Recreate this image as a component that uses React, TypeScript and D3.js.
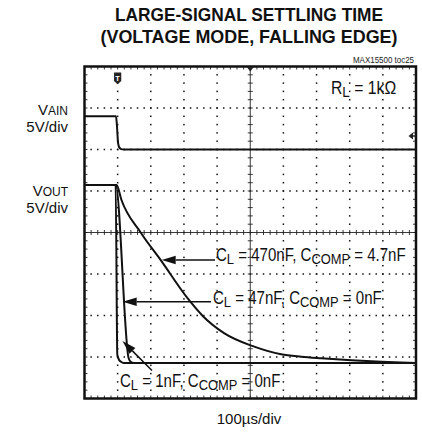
import React from 'react';
import * as d3 from 'd3';

// ---------- data (time in µs, voltage in V) ----------
const TIME_DOMAIN: [number, number] = [-100, 900]; // 100µs/div, 10 divisions
const DIV_DOMAIN: [number, number] = [-4, 4]; // 8 vertical divisions
const VOLTS_PER_DIV = 5;
const VAIN_OFFSET_DIV = 2;
const VOUT_OFFSET_DIV = -3.145;

const vainT = [-100, -5, -2, 1, 3, 6, 11, 18, 900];
const vainV = [4, 4, 2.8, 0.9, 0.45, 0.2, 0.05, 0, 0];

const vout1nFT = [-100, -6, -1, 4, 10, 18, 900];
const vout1nFV = [21.45, 21.45, 1.0, 0.4, 0.15, 0, 0];

const vout47nFT = [-100, -6, 33, 38, 44, 55, 900];
const vout47nFV = [21.45, 21.45, 0.6, 0.2, 0.05, 0, 0];

const vout470nFT = [-100, -3, 11, 70, 130, 215, 256, 321, 412, 493, 554, 614, 705, 796, 856, 900];
const vout470nFV = [21.45, 21.45, 19.7, 15.7, 12.4, 7.6, 5.7, 3.6, 1.97, 1.05, 0.76, 0.57, 0.33, 0.14, 0.05, 0];

const titleLines = ['LARGE-SIGNAL SETTLING TIME', '(VOLTAGE MODE, FALLING EDGE)'];
const X_DIVS = 10;
const Y_DIVS = 8;
const MINOR = 5;

// ---------- layout ----------
const W = 422;
const H = 434;
const PL = 84.5, PR = 416, PT = 66.5, PB = 398.5;
const FONT = '"Liberation Sans", Arial, Helvetica, sans-serif';
const INK = '#111';

const x = d3.scaleLinear().domain(TIME_DOMAIN).range([PL, PR]);
const y = d3.scaleLinear().domain(DIV_DOMAIN).range([PB, PT]);

const toPts = (ts: number[], vs: number[], off: number) =>
  ts.map((t, i) => [t, off + vs[i] / VOLTS_PER_DIV] as [number, number]);

const line = d3
  .line<[number, number]>()
  .x((d) => x(d[0]))
  .y((d) => y(d[1]))
  .curve(d3.curveMonotoneX);

function Arrow({ tip, tail }: { tip: [number, number]; tail: [number, number] }) {
  const x1 = x(tip[0]), y1 = y(tip[1]);
  const x2 = x(tail[0]), y2 = y(tail[1]);
  const ang = Math.atan2(y2 - y1, x2 - x1);
  const L = 14, hw = 4.2;
  const bx = x1 + L * Math.cos(ang), by = y1 + L * Math.sin(ang);
  const px = -Math.sin(ang) * hw, py = Math.cos(ang) * hw;
  return (
    <g>
      <line x1={bx} y1={by} x2={x2} y2={y2} stroke={INK} strokeWidth={1.5} />
      <path d={`M${x1},${y1}L${bx + px},${by + py}L${bx - px},${by - py}Z`} fill={INK} />
    </g>
  );
}

function CLabel({ at, cl, ccomp }: { at: [number, number]; cl: string; ccomp: string }) {
  return (
    <g transform={`translate(${x(at[0])},${y(at[1])}) scale(0.86,1)`}>
      <text x={0} y={0} fontSize={17.5} fontFamily={FONT} fill={INK}>
        C<tspan fontSize={15} dy={2.5}>L</tspan>
        <tspan dy={-2.5}>{` = ${cl}, C`}</tspan>
        <tspan fontSize={15} dy={2.5}>COMP</tspan>
        <tspan dy={-2.5}>{` = ${ccomp}`}</tspan>
      </text>
    </g>
  );
}

export default function App() {
  const dx = (PR - PL) / X_DIVS;
  const dy = (PB - PT) / Y_DIVS;
  const dots: JSX.Element[] = [];
  for (let i = 1; i < X_DIVS; i++) {
    if (i === X_DIVS / 2) continue;
    const gx = PL + i * dx;
    for (let k = 1; k < Y_DIVS * MINOR; k++) {
      dots.push(<rect key={`v${i}-${k}`} x={gx - 0.75} y={PT + (k * dy) / MINOR - 0.75} width={1.5} height={1.5} fill="#111" />);
    }
  }
  for (let j = 1; j < Y_DIVS; j++) {
    if (j === Y_DIVS / 2) continue;
    const gy = PT + j * dy;
    for (let k = 1; k < X_DIVS * MINOR; k++) {
      dots.push(<rect key={`h${j}-${k}`} x={PL + (k * dx) / MINOR - 0.75} y={gy - 0.75} width={1.5} height={1.5} fill="#111" />);
    }
  }
  const ticks: JSX.Element[] = [];
  const cx = PL + (X_DIVS / 2) * dx;
  const cy = PT + (Y_DIVS / 2) * dy;
  for (let k = 1; k < X_DIVS * MINOR; k++) {
    const tx = PL + (k * dx) / MINOR;
    ticks.push(<line key={`ct${k}`} x1={tx} x2={tx} y1={cy - 2.5} y2={cy + 2.5} stroke="#222" strokeWidth={0.9} />);
    ticks.push(<line key={`tt${k}`} x1={tx} x2={tx} y1={PT} y2={PT + 3} stroke="#222" strokeWidth={0.9} />);
    ticks.push(<line key={`bt${k}`} x1={tx} x2={tx} y1={PB - 3} y2={PB} stroke="#222" strokeWidth={0.9} />);
  }
  for (let k = 1; k < Y_DIVS * MINOR; k++) {
    const ty = PT + (k * dy) / MINOR;
    ticks.push(<line key={`cv${k}`} x1={cx - 2.5} x2={cx + 2.5} y1={ty} y2={ty} stroke="#222" strokeWidth={0.9} />);
    ticks.push(<line key={`lt${k}`} x1={PL} x2={PL + 3} y1={ty} y2={ty} stroke="#222" strokeWidth={0.9} />);
    ticks.push(<line key={`rt${k}`} x1={PR - 3} x2={PR} y1={ty} y2={ty} stroke="#222" strokeWidth={0.9} />);
  }

  const tx0 = x(0);
  return (
    <div style={{ position: 'absolute', left: 0, top: 0 }}>
      <svg width={W} height={H} viewBox={`0 0 ${W} ${H}`} style={{ display: 'block', background: '#fff' }}>
        <rect x={0} y={0} width={W} height={H} fill="#fff" />
        <text x={249} y={21} textAnchor="middle" fontFamily={FONT} fontWeight="bold" fontSize={18.5} fill={INK} textLength={268} lengthAdjust="spacingAndGlyphs">
          {titleLines[0]}
        </text>
        <text x={249} y={43} textAnchor="middle" fontFamily={FONT} fontWeight="bold" fontSize={18.5} fill={INK} textLength={297} lengthAdjust="spacingAndGlyphs">
          {titleLines[1]}
        </text>
        <text x={414} y={62.5} textAnchor="end" fontFamily={FONT} fontSize={9} fill="#222" textLength={61} lengthAdjust="spacingAndGlyphs">
          MAX15500 toc25
        </text>

        {/* grid */}
        <g>{dots}</g>
        <line x1={PL} x2={PR} y1={cy} y2={cy} stroke="#222" strokeWidth={0.9} />
        <line x1={cx} x2={cx} y1={PT} y2={PB} stroke="#222" strokeWidth={0.9} />
        <g>{ticks}</g>
        <rect x={PL} y={PT} width={PR - PL} height={PB - PT} fill="none" stroke={INK} strokeWidth={2.5} />

        {/* markers */}
        <path d={`M${tx0 - 3.6},72.5 h7.2 v8.5 l-3.6,3.2 l-3.6,-3.2 Z`} fill="#222" />
        <text x={tx0} y={80.5} textAnchor="middle" fontFamily={FONT} fontWeight="bold" fontSize={7.5} fill="#fff">T</text>
        <path d={`M${cx - 3.5},67 L${cx + 3.5},67 L${cx},71.5 Z`} fill="#222" />
        <path d={`M${PR - 7.5},136 L${PR - 3},132.5 L${PR - 3},139.5 Z`} fill="#222" />
        <line x1={PR - 3} x2={PR} y1={136} y2={136} stroke="#222" strokeWidth={1.5} />

        {/* traces */}
        <g fill="none" stroke={INK} strokeWidth={2} strokeLinejoin="round">
          <path d={line(toPts(vainT, vainV, VAIN_OFFSET_DIV)) || ''} />
          <path d={line(toPts(vout470nFT, vout470nFV, VOUT_OFFSET_DIV)) || ''} />
          <path d={line(toPts(vout47nFT, vout47nFV, VOUT_OFFSET_DIV)) || ''} />
          <path d={line(toPts(vout1nFT, vout1nFV, VOUT_OFFSET_DIV)) || ''} />
        </g>

        {/* annotations */}
        <Arrow tip={[132.9, -0.663]} tail={[293.7, -0.663]} />
        <Arrow tip={[15.2, -1.667]} tail={[281.6, -1.667]} />
        <Arrow tip={[14.6, -2.614]} tail={[103.6, -3.325]} />
        <CLabel at={[296.7, -0.687]} cl="470nF" ccomp="4.7nF" />
        <CLabel at={[287.6, -1.723]} cl="47nF" ccomp="0nF" />
        <CLabel at={[7.1, -3.723]} cl="1nF" ccomp="0nF" />
        <g transform={`translate(${x(643.6)},${y(3.337)}) scale(0.9,1)`}>
          <text x={0} y={0} fontSize={17.5} fontFamily={FONT} fill={INK}>
            R<tspan fontSize={15} dy={2.5}>L</tspan>
            <tspan dy={-2.5}>{' = 1kΩ'}</tspan>
          </text>
        </g>

        {/* channel labels */}
        <text x={68} y={114.5} textAnchor="end" fontFamily={FONT} fontSize={15} fill={INK}>
          V<tspan fontSize={12} dy={0.5}>AIN</tspan>
        </text>
        <text x={68} y={132} textAnchor="end" fontFamily={FONT} fontSize={15} fill={INK}>5V/div</text>
        <text x={68} y={195.5} textAnchor="end" fontFamily={FONT} fontSize={15} fill={INK}>
          V<tspan fontSize={12} dy={0.5}>OUT</tspan>
        </text>
        <text x={68} y={213} textAnchor="end" fontFamily={FONT} fontSize={15} fill={INK}>5V/div</text>

        <text x={249} y={424} textAnchor="middle" fontFamily={FONT} fontSize={15} fill={INK}>100µs/div</text>
      </svg>
    </div>
  );
}
